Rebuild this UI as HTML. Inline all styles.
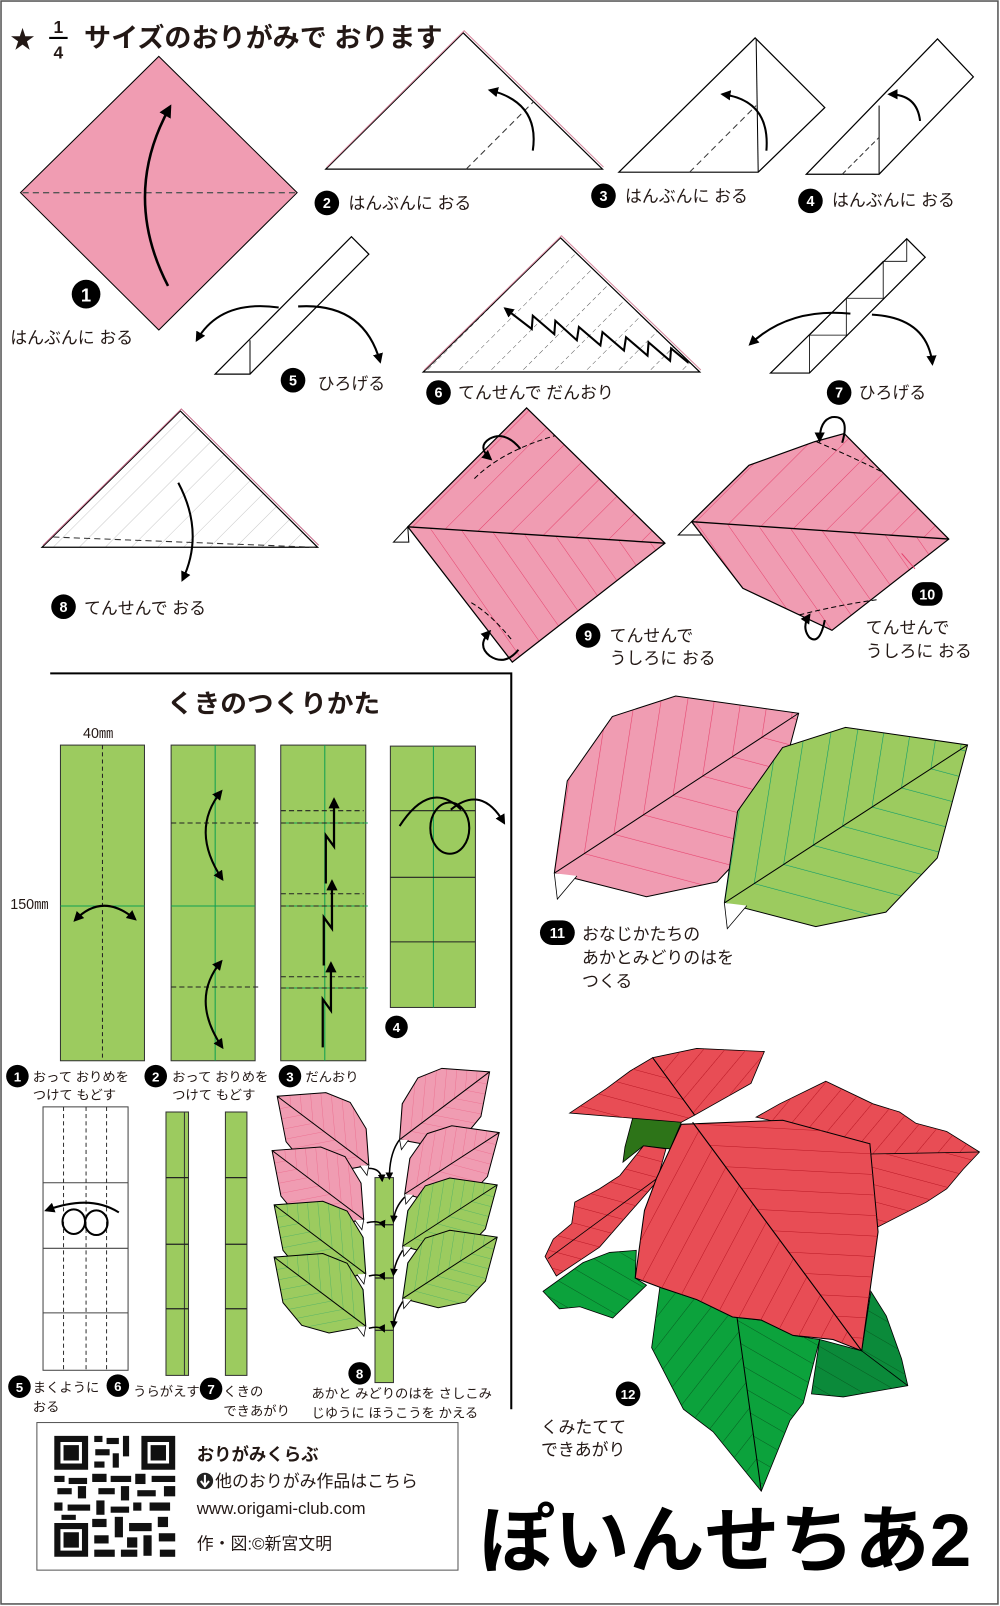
<!DOCTYPE html>
<html><head><meta charset="utf-8"><style>
html,body{margin:0;padding:0;background:#fff;}
svg{display:block;}
text{font-family:"Liberation Sans","Noto Sans CJK JP",sans-serif;fill:#231815;}
.lb{font-size:16.5px;}
.sm{font-size:13px;}
.nb{font-size:14px;font-weight:bold;fill:#fff;text-anchor:middle;}
</style></head><body>
<svg width="1000" height="1606" viewBox="0 0 976 1567" preserveAspectRatio="none" xmlns="http://www.w3.org/2000/svg">
<defs>
<marker id="ah" viewBox="0 0 10 10" refX="8" refY="5" markerWidth="5" markerHeight="5" orient="auto-start-reverse"><path d="M0,0 L10,5 L0,10 z" fill="#000"/></marker>
<pattern id="pU" width="9" height="9" patternUnits="userSpaceOnUse" patternTransform="rotate(42)"><line x1="0" y1="0" x2="0" y2="9" stroke="#e5436d" stroke-width="0.4"/></pattern>
<pattern id="pL" width="9" height="9" patternUnits="userSpaceOnUse" patternTransform="rotate(-42)"><line x1="0" y1="0" x2="0" y2="9" stroke="#e5436d" stroke-width="0.4"/></pattern>
<pattern id="gU" width="9" height="9" patternUnits="userSpaceOnUse" patternTransform="rotate(42)"><line x1="0" y1="0" x2="0" y2="9" stroke="#0a9a6a" stroke-width="0.4"/></pattern>
<pattern id="gL" width="9" height="9" patternUnits="userSpaceOnUse" patternTransform="rotate(-42)"><line x1="0" y1="0" x2="0" y2="9" stroke="#0a9a6a" stroke-width="0.4"/></pattern>
<clipPath id="cl"><polygon points="0,0 21,-24 46,-34 68,-28 100,0 70,27 45,33 22,24"/></clipPath>
<g id="leafP">
<polygon points="0,0 21,-24 46,-34 68,-28 100,0 70,27 45,33 22,24" fill="#f09cb2"/>
<g clip-path="url(#cl)"><rect x="-10" y="-40" width="120" height="40" fill="url(#pU)"/><rect x="-10" y="0" width="120" height="40" fill="url(#pL)"/></g>
<polygon points="0,0 21,-24 46,-34 68,-28 100,0 70,27 45,33 22,24" fill="none" stroke="#000" stroke-width="1" vector-effect="non-scaling-stroke"/>
<line x1="0" y1="0" x2="100" y2="0" stroke="#000" stroke-width="1" vector-effect="non-scaling-stroke"/>
<polyline points="0,0 -4,8 6,5" fill="#fff" stroke="#000" stroke-width="0.8" vector-effect="non-scaling-stroke"/>
</g>
<g id="leafG">
<polygon points="0,0 21,-24 46,-34 68,-28 100,0 70,27 45,33 22,24" fill="#9ccb5f"/>
<g clip-path="url(#cl)"><rect x="-10" y="-40" width="120" height="40" fill="url(#gU)"/><rect x="-10" y="0" width="120" height="40" fill="url(#gL)"/></g>
<polygon points="0,0 21,-24 46,-34 68,-28 100,0 70,27 45,33 22,24" fill="none" stroke="#000" stroke-width="1" vector-effect="non-scaling-stroke"/>
<line x1="0" y1="0" x2="100" y2="0" stroke="#000" stroke-width="1" vector-effect="non-scaling-stroke"/>
<polyline points="0,0 -4,8 6,5" fill="#fff" stroke="#000" stroke-width="0.8" vector-effect="non-scaling-stroke"/>
</g>
<pattern id="r9u" width="24" height="24" patternUnits="userSpaceOnUse" patternTransform="rotate(45)"><line x1="0" y1="0" x2="0" y2="24" stroke="#e5436d" stroke-width="1"/></pattern>
<pattern id="r9l" width="24" height="24" patternUnits="userSpaceOnUse" patternTransform="rotate(-35)"><line x1="0" y1="0" x2="0" y2="24" stroke="#e5436d" stroke-width="1"/></pattern>
<pattern id="rh" width="20" height="20" patternUnits="userSpaceOnUse" patternTransform="rotate(-87)"><line x1="0" y1="0" x2="0" y2="20" stroke="#b5121f" stroke-width="0.9"/></pattern>
<pattern id="rs" width="20" height="20" patternUnits="userSpaceOnUse" patternTransform="rotate(28)"><line x1="0" y1="0" x2="0" y2="20" stroke="#b5121f" stroke-width="0.9"/></pattern>
<pattern id="rd" width="16" height="16" patternUnits="userSpaceOnUse" patternTransform="rotate(-75)"><line x1="0" y1="0" x2="0" y2="16" stroke="#b5121f" stroke-width="0.9"/></pattern>
<pattern id="rt" width="16" height="16" patternUnits="userSpaceOnUse" patternTransform="rotate(40)"><line x1="0" y1="0" x2="0" y2="16" stroke="#b5121f" stroke-width="0.9"/></pattern>
<pattern id="gs" width="18" height="18" patternUnits="userSpaceOnUse" patternTransform="rotate(38)"><line x1="0" y1="0" x2="0" y2="18" stroke="#06581f" stroke-width="0.9"/></pattern>
<pattern id="gs2" width="18" height="18" patternUnits="userSpaceOnUse" patternTransform="rotate(-60)"><line x1="0" y1="0" x2="0" y2="18" stroke="#06581f" stroke-width="0.9"/></pattern>
<pattern id="gray" width="18" height="18" patternUnits="userSpaceOnUse" patternTransform="rotate(45)"><line x1="0" y1="0" x2="0" y2="18" stroke="#c8c8c8" stroke-width="1"/></pattern>
<pattern id="dsh" width="22" height="22" patternUnits="userSpaceOnUse" patternTransform="rotate(45)"><line x1="0" y1="0" x2="0" y2="22" stroke="#333" stroke-width="0.8" stroke-dasharray="4,3"/></pattern>
</defs>

<rect x="1" y="1" width="973" height="1564" fill="#fff" stroke="#555" stroke-width="1.5"/>

<!-- title -->
<text x="10" y="47" style="font-size:24px;">★</text>
<text x="57" y="32" style="font-size:17px;font-weight:bold;" text-anchor="middle">1</text>
<line x1="48" y1="37" x2="66" y2="37" stroke="#000" stroke-width="2"/>
<text x="57" y="57" style="font-size:17px;font-weight:bold;" text-anchor="middle">4</text>
<text x="82" y="46" style="font-size:26px;font-weight:bold;" textLength="350" lengthAdjust="spacingAndGlyphs">サイズのおりがみで おります</text>

<!-- step 1 -->
<polygon points="155,55 290,188 155,322 20,188" fill="#f09cb2" stroke="#000" stroke-width="1"/>
<line x1="22" y1="188" x2="288" y2="188" stroke="#555" stroke-width="1.3" stroke-dasharray="6,4"/>
<path d="M164,279 Q118,190 166,104" fill="none" stroke="#000" stroke-width="2.5" marker-end="url(#ah)"/>
<circle cx="84" cy="287" r="14" fill="#000"/><text x="84" y="294" class="nb" style="font-size:18px">1</text>
<text x="10" y="335" class="lb">はんぶんに おる</text>

<!-- step 2 -->
<polygon points="318,165 452,32 588,165" fill="#fff" stroke="#000" stroke-width="1.2"/>
<polyline points="318,165 452,32 588,165" fill="none" stroke="#d88aa0" stroke-width="1" transform="translate(1,-2)"/>
<line x1="455" y1="165" x2="521" y2="99" stroke="#333" stroke-width="1" stroke-dasharray="6,4"/>
<path d="M520,147 Q527,100 478,88" fill="none" stroke="#000" stroke-width="2" marker-end="url(#ah)"/>
<circle cx="319" cy="198" r="12" fill="#000"/><text x="319" y="203" class="nb">2</text>
<text x="340" y="204" class="lb">はんぶんに おる</text>

<!-- step 3 -->
<polygon points="604,168 737,37 805,105 740,168" fill="#fff" stroke="#000" stroke-width="1.2"/>
<line x1="738" y1="38" x2="740" y2="168" stroke="#000" stroke-width="1"/>
<line x1="673" y1="168" x2="738" y2="103" stroke="#333" stroke-width="1" stroke-dasharray="6,4"/>
<path d="M748,147 Q752,98 705,92" fill="none" stroke="#000" stroke-width="2" marker-end="url(#ah)"/>
<circle cx="589" cy="191" r="12" fill="#000"/><text x="589" y="196" class="nb">3</text>
<text x="610" y="197" class="lb">はんぶんに おる</text>

<!-- step 4 -->
<polygon points="787,170 915,38 950,75 858,170" fill="#fff" stroke="#000" stroke-width="1.2"/>
<line x1="858" y1="103" x2="858" y2="170" stroke="#000" stroke-width="1"/>
<line x1="822" y1="170" x2="858" y2="134" stroke="#333" stroke-width="1" stroke-dasharray="5,3"/>
<path d="M898,118 Q895,92 868,92" fill="none" stroke="#000" stroke-width="2" marker-end="url(#ah)"/>
<circle cx="791" cy="196" r="12" fill="#000"/><text x="791" y="201" class="nb">4</text>
<text x="812" y="201" class="lb">はんぶんに おる</text>

<!-- step 5 -->
<polygon points="210,365 343,231 360,248 244,365" fill="#fff" stroke="#000" stroke-width="1.2"/>
<line x1="244" y1="332" x2="244" y2="365" stroke="#000" stroke-width="1"/>
<path d="M272,300 Q215,292 192,332" fill="none" stroke="#000" stroke-width="2" marker-end="url(#ah)"/>
<path d="M291,299 Q355,295 371,353" fill="none" stroke="#000" stroke-width="2" marker-end="url(#ah)"/>
<circle cx="286" cy="371" r="12" fill="#000"/><text x="286" y="376" class="nb">5</text>
<text x="310" y="380" class="lb">ひろげる</text>

<!-- step 6 -->
<polygon points="413,363 547,232 683,363" fill="url(#dsh)" stroke="none"/>
<polygon points="413,363 547,232 683,363" fill="none" stroke="#000" stroke-width="1.2"/>
<polyline points="413,363 547,232 683,363" fill="none" stroke="#d88aa0" stroke-width="1" transform="translate(1,-2)"/>
<polyline points="672,354 655,340 654,352 633,334 632,347 611,329 609,342 588,324 586,337 565,319 563,332 542,313 541,326 520,308 519,321 493,301" fill="none" stroke="#000" stroke-width="2" marker-end="url(#ah)"/>
<circle cx="428" cy="383" r="12" fill="#000"/><text x="428" y="388" class="nb">6</text>
<text x="447" y="389" class="lb">てんせんで だんおり</text>

<!-- step 7 -->
<polygon points="752,364 885,233 903,251 790,364" fill="#fff" stroke="#000" stroke-width="1.2"/>
<polyline points="790,364 790,327 826,327 826,291 862,291 862,255 885,255 885,233" fill="none" stroke="#000" stroke-width="0.8"/>
<line x1="790" y1="327" x2="826" y2="291" stroke="#000" stroke-width="0.8"/>
<line x1="826" y1="291" x2="862" y2="255" stroke="#000" stroke-width="0.8"/>
<path d="M830,306 Q770,300 732,336" fill="none" stroke="#000" stroke-width="2" marker-end="url(#ah)"/>
<path d="M851,307 Q905,310 910,355" fill="none" stroke="#000" stroke-width="2" marker-end="url(#ah)"/>
<circle cx="819" cy="383" r="12" fill="#000"/><text x="819" y="388" class="nb">7</text>
<text x="838" y="389" class="lb">ひろげる</text>

<!-- step 8 -->
<polygon points="41,534 176,401 310,534" fill="url(#gray)"/>
<polygon points="41,534 176,401 310,534" fill="none" stroke="#000" stroke-width="1.2"/>
<polyline points="41,534 176,401 310,534" fill="none" stroke="#c46a88" stroke-width="1" transform="translate(1,-2)"/>
<line x1="52" y1="524" x2="308" y2="534" stroke="#333" stroke-width="1" stroke-dasharray="6,4"/>
<path d="M174,471 Q200,520 178,566" fill="none" stroke="#000" stroke-width="2" marker-end="url(#ah)"/>
<circle cx="62" cy="592" r="12" fill="#000"/><text x="62" y="597" class="nb">8</text>
<text x="82" y="599" class="lb">てんせんで おる</text>

<!-- step 9 -->
<polygon points="384,529 398,514 399,529" fill="#fff" stroke="#000" stroke-width="1"/>
<clipPath id="c9"><polygon points="514,398 649,530 500,646 398,514"/></clipPath>
<polygon points="514,398 649,530 500,646 398,514" fill="#f09cb2"/>
<g clip-path="url(#c9)">
<polygon points="398,514 649,530 660,380 390,380" fill="url(#r9u)"/>
<polygon points="398,514 649,530 660,660 390,660" fill="url(#r9l)"/>
</g>
<polygon points="514,398 649,530 500,646 398,514" fill="none" stroke="#000" stroke-width="1.2"/>
<line x1="398" y1="514" x2="649" y2="530" stroke="#000" stroke-width="1.3"/>
<path d="M463,467 Q490,440 542,425" fill="none" stroke="#000" stroke-width="1" stroke-dasharray="5,3"/>
<path d="M460,588 Q480,600 500,625" fill="none" stroke="#000" stroke-width="1" stroke-dasharray="5,3"/>
<path d="M508,438 Q493,420 478,428 Q465,436 479,448" fill="none" stroke="#000" stroke-width="2" marker-end="url(#ah)"/>
<path d="M506,634 Q493,650 478,640 Q465,630 478,616" fill="none" stroke="#000" stroke-width="2" marker-end="url(#ah)"/>
<circle cx="574" cy="620" r="12" fill="#000"/><text x="574" y="625" class="nb">9</text>
<text x="595" y="626" class="lb">てんせんで</text>
<text x="595" y="648" class="lb">うしろに おる</text>

<!-- step 10 -->
<polygon points="662,522 675,509 690,522" fill="#fff" stroke="#000" stroke-width="1"/>
<clipPath id="c10"><polygon points="675,509 731,454 795,431 824,423 926,526 812,615 725,574"/></clipPath>
<polygon points="675,509 731,454 795,431 824,423 926,526 812,615 725,574" fill="#f09cb2"/>
<g clip-path="url(#c10)">
<polygon points="675,509 926,526 940,400 660,400" fill="url(#r9u)"/>
<polygon points="675,509 926,526 940,640 660,640" fill="url(#r9l)"/>
</g>
<polygon points="675,509 731,454 795,431 824,423 926,526 812,615 725,574" fill="none" stroke="#000" stroke-width="1.2"/>
<line x1="675" y1="509" x2="926" y2="526" stroke="#000" stroke-width="1.3"/>
<line x1="880" y1="540" x2="893" y2="555" stroke="#e5436d" stroke-width="1"/>
<path d="M797,431 Q830,445 860,460" fill="none" stroke="#000" stroke-width="1" stroke-dasharray="5,3"/>
<path d="M780,600 Q820,590 857,585" fill="none" stroke="#000" stroke-width="1" stroke-dasharray="5,3"/>
<path d="M822,432 Q830,405 812,407 Q800,410 800,430" fill="none" stroke="#000" stroke-width="2" marker-end="url(#ah)"/>
<path d="M805,605 Q800,630 790,622 Q782,612 790,600" fill="none" stroke="#000" stroke-width="2" marker-end="url(#ah)"/>
<rect x="890" y="568" width="30" height="23" rx="11" fill="#000"/><text x="905" y="585" class="nb">10</text>
<text x="845" y="618" class="lb">てんせんで</text>
<text x="845" y="641" class="lb">うしろに おる</text>

<!-- stem section -->
<polyline points="49,657 499,657 499,1375" fill="none" stroke="#000" stroke-width="2"/>
<text x="163" y="695" style="font-size:25px;font-weight:bold;" textLength="208" lengthAdjust="spacingAndGlyphs">くきのつくりかた</text>
<text x="81" y="720" style="font-size:14px;">40㎜</text>
<text x="10" y="887" style="font-size:14px;">150㎜</text>

<g stroke-width="1">
<rect x="59" y="727" width="82" height="308" fill="#9ccb5f" stroke="#333"/>
<line x1="59" y1="884" x2="141" y2="884" stroke="#10a050"/>
<line x1="100" y1="727" x2="100" y2="1035" stroke="#222" stroke-dasharray="4,3"/>
<path d="M73,898 Q100,870 132,897" fill="none" stroke="#000" stroke-width="2" marker-start="url(#ah)" marker-end="url(#ah)"/>

<rect x="167" y="727" width="82" height="308" fill="#9ccb5f" stroke="#333"/>
<line x1="167" y1="884" x2="249" y2="884" stroke="#10a050"/>
<line x1="210" y1="727" x2="210" y2="1035" stroke="#10a050"/>
<line x1="167" y1="803" x2="252" y2="803" stroke="#222" stroke-dasharray="5,3"/>
<line x1="167" y1="963" x2="252" y2="963" stroke="#222" stroke-dasharray="5,3"/>
<path d="M216,772 Q185,810 217,858" fill="none" stroke="#000" stroke-width="2" marker-start="url(#ah)" marker-end="url(#ah)"/>
<path d="M216,938 Q185,975 217,1022" fill="none" stroke="#000" stroke-width="2" marker-start="url(#ah)" marker-end="url(#ah)"/>

<rect x="274" y="727" width="83" height="308" fill="#9ccb5f" stroke="#333"/>
<line x1="317" y1="727" x2="317" y2="1035" stroke="#10a050"/>
<line x1="274" y1="803" x2="359" y2="803" stroke="#10a050"/>
<line x1="274" y1="884" x2="359" y2="884" stroke="#10a050"/>
<line x1="274" y1="964" x2="359" y2="964" stroke="#10a050"/>
<g stroke="#222" stroke-dasharray="5,3">
<line x1="274" y1="791" x2="355" y2="791"/><line x1="274" y1="803" x2="355" y2="803"/>
<line x1="274" y1="872" x2="355" y2="872"/><line x1="274" y1="884" x2="355" y2="884"/>
<line x1="274" y1="953" x2="355" y2="953"/><line x1="274" y1="964" x2="355" y2="964"/>
</g>
<g fill="none" stroke="#000" stroke-width="2.2">
<polyline points="318,862 318,815 326,826 326,780" marker-end="url(#ah)"/>
<polyline points="316,942 316,895 324,906 324,860" marker-end="url(#ah)"/>
<polyline points="315,1022 315,975 323,986 323,940" marker-end="url(#ah)"/>
</g>

<rect x="381" y="728" width="83" height="255" fill="#9ccb5f" stroke="#333"/>
<line x1="423" y1="728" x2="423" y2="983" stroke="#10a050"/>
<line x1="381" y1="791" x2="464" y2="791" stroke="#222"/>
<line x1="381" y1="856" x2="464" y2="856" stroke="#222"/>
<line x1="381" y1="919" x2="464" y2="919" stroke="#222"/>
<path d="M390,806 Q420,760 450,790" fill="none" stroke="#000" stroke-width="2"/>
<ellipse cx="439" cy="808" rx="19" ry="25" fill="none" stroke="#000" stroke-width="2"/>
<path d="M440,790 Q470,765 492,803" fill="none" stroke="#000" stroke-width="2" marker-end="url(#ah)"/>
</g>
<circle cx="387" cy="1002" r="11" fill="#000"/><text x="387" y="1007" class="nb" style="font-size:13px">4</text>

<circle cx="17" cy="1050" r="11" fill="#000"/><text x="17" y="1055" class="nb" style="font-size:13px">1</text>
<text x="32" y="1055" class="sm">おって おりめを</text><text x="32" y="1073" class="sm">つけて もどす</text>
<circle cx="152" cy="1050" r="11" fill="#000"/><text x="152" y="1055" class="nb" style="font-size:13px">2</text>
<text x="168" y="1055" class="sm">おって おりめを</text><text x="168" y="1073" class="sm">つけて もどす</text>
<circle cx="283" cy="1050" r="11" fill="#000"/><text x="283" y="1055" class="nb" style="font-size:13px">3</text>
<text x="298" y="1055" class="sm">だんおり</text>

<!-- stem steps 5-7 -->
<rect x="42" y="1080" width="83" height="257" fill="#fff" stroke="#444" stroke-width="1"/>
<g stroke="#444" stroke-width="1"><line x1="42" y1="1154" x2="125" y2="1154"/><line x1="42" y1="1218" x2="125" y2="1218"/><line x1="42" y1="1281" x2="125" y2="1281"/></g>
<g stroke="#333" stroke-width="1" stroke-dasharray="4,3"><line x1="62" y1="1080" x2="62" y2="1337"/><line x1="84" y1="1080" x2="84" y2="1337"/><line x1="104" y1="1080" x2="104" y2="1337"/></g>
<path d="M116,1183 Q88,1165 45,1181" fill="none" stroke="#000" stroke-width="2" marker-end="url(#ah)"/>
<ellipse cx="72" cy="1192" rx="11" ry="12" fill="none" stroke="#000" stroke-width="2"/>
<ellipse cx="94" cy="1193" rx="11" ry="12" fill="none" stroke="#000" stroke-width="2"/>

<rect x="162" y="1085" width="22" height="257" fill="#9ccb5f" stroke="#333"/>
<line x1="180" y1="1085" x2="180" y2="1342" stroke="#333"/>
<g stroke="#222" stroke-width="1.2"><line x1="162" y1="1149" x2="184" y2="1149"/><line x1="162" y1="1214" x2="184" y2="1214"/><line x1="162" y1="1277" x2="184" y2="1277"/></g>
<rect x="220" y="1085" width="21" height="257" fill="#9ccb5f" stroke="#333"/>
<g stroke="#222" stroke-width="1.2"><line x1="220" y1="1149" x2="241" y2="1149"/><line x1="220" y1="1214" x2="241" y2="1214"/><line x1="220" y1="1277" x2="241" y2="1277"/></g>

<circle cx="19" cy="1353" r="11" fill="#000"/><text x="19" y="1358" class="nb" style="font-size:13px">5</text>
<text x="32" y="1358" class="sm">まくように</text><text x="32" y="1377" class="sm">おる</text>
<circle cx="115" cy="1352" r="11" fill="#000"/><text x="115" y="1357" class="nb" style="font-size:13px">6</text>
<text x="130" y="1362" class="sm">うらがえす</text>
<circle cx="206" cy="1355" r="11" fill="#000"/><text x="206" y="1360" class="nb" style="font-size:13px">7</text>
<text x="218" y="1362" class="sm">くきの</text><text x="218" y="1381" class="sm">できあがり</text>

<!-- step 8 stem with leaves -->
<use href="#leafP" transform="translate(360,1137) rotate(-143) scale(1.12,-1.12)"/>
<use href="#leafP" transform="translate(390,1112) rotate(-37) scale(1.1)"/>
<use href="#leafP" transform="translate(355,1190) rotate(-143) scale(1.12,-1.12)"/>
<use href="#leafP" transform="translate(395,1165) rotate(-33) scale(1.1)"/>
<use href="#leafG" transform="translate(357,1243) rotate(-143) scale(1.12,-1.12)"/>
<use href="#leafG" transform="translate(393,1216) rotate(-33) scale(1.1)"/>
<use href="#leafG" transform="translate(357,1294) rotate(-143) scale(1.12,-1.12)"/>
<use href="#leafG" transform="translate(393,1267) rotate(-33) scale(1.1)"/>
<rect x="366" y="1149" width="18" height="200" fill="#9ccb5f" stroke="#333"/>
<g stroke="#222" stroke-width="1.2"><line x1="366" y1="1195" x2="384" y2="1195"/><line x1="366" y1="1247" x2="384" y2="1247"/><line x1="366" y1="1298" x2="384" y2="1298"/></g>
<g fill="none" stroke="#000" stroke-width="1.5">
<path d="M360,1140 Q372,1140 373,1152" marker-end="url(#ah)"/>
<path d="M390,1112 Q380,1125 380,1150" marker-end="url(#ah)"/>
<path d="M358,1193 Q372,1190 375,1197" marker-end="url(#ah)"/>
<path d="M395,1168 Q385,1178 384,1192" marker-end="url(#ah)"/>
<path d="M360,1245 Q372,1242 375,1248" marker-end="url(#ah)"/>
<path d="M393,1220 Q385,1232 384,1244" marker-end="url(#ah)"/>
<path d="M360,1296 Q372,1293 375,1299" marker-end="url(#ah)"/>
<path d="M393,1270 Q385,1282 384,1295" marker-end="url(#ah)"/>
</g>
<circle cx="351" cy="1340" r="11" fill="#000"/><text x="351" y="1345" class="nb" style="font-size:13px">8</text>
<text x="304" y="1364" class="sm">あかと みどりのはを さしこみ</text>
<text x="304" y="1383" class="sm">じゆうに ほうこうを かえる</text>

<!-- info box -->
<rect x="36" y="1388" width="411" height="144" fill="#fff" stroke="#555" stroke-width="1"/>
<g fill="#111">
<rect x="53" y="1401" width="118" height="118" fill="#fff"/>
<path d="M53,1401h33v33h-33zM59,1407v21h21v-21z M62,1410h15v15h-15z" fill-rule="evenodd"/>
<path d="M138,1401h33v33h-33zM144,1407v21h21v-21z M147,1410h15v15h-15z" fill-rule="evenodd"/>
<path d="M53,1486h33v33h-33zM59,1492v21h21v-21z M62,1495h15v15h-15z" fill-rule="evenodd"/>
<rect x="92" y="1401" width="8" height="6"/><rect x="104" y="1403" width="12" height="6"/><rect x="120" y="1401" width="6" height="20"/><rect x="93" y="1414" width="14" height="6"/><rect x="110" y="1418" width="6" height="14"/><rect x="92" y="1426" width="10" height="6"/>
<rect x="53" y="1440" width="10" height="6"/><rect x="67" y="1442" width="18" height="6"/><rect x="90" y="1438" width="14" height="8"/><rect x="108" y="1440" width="20" height="6"/><rect x="132" y="1438" width="10" height="10"/><rect x="148" y="1440" width="23" height="6"/>
<rect x="56" y="1452" width="14" height="6"/><rect x="76" y="1450" width="8" height="12"/><rect x="96" y="1452" width="16" height="6"/><rect x="118" y="1450" width="8" height="14"/><rect x="134" y="1454" width="18" height="6"/><rect x="160" y="1450" width="11" height="10"/>
<rect x="53" y="1466" width="8" height="8"/><rect x="66" y="1468" width="22" height="6"/><rect x="94" y="1464" width="8" height="14"/><rect x="108" y="1470" width="18" height="6"/><rect x="130" y="1466" width="8" height="8"/><rect x="146" y="1466" width="20" height="8"/>
<rect x="60" y="1478" width="14" height="5"/><rect x="90" y="1482" width="14" height="8"/><rect x="112" y="1480" width="8" height="20"/><rect x="126" y="1486" width="22" height="8"/><rect x="154" y="1480" width="10" height="10"/>
<rect x="92" y="1498" width="14" height="8"/><rect x="124" y="1500" width="10" height="10"/><rect x="140" y="1498" width="8" height="20"/><rect x="155" y="1496" width="16" height="8"/><rect x="92" y="1512" width="20" height="7"/><rect x="118" y="1512" width="16" height="7"/><rect x="156" y="1512" width="15" height="7"/>
</g>
<text x="192" y="1425" style="font-size:17px;font-weight:bold;">おりがみくらぶ</text>
<circle cx="200" cy="1445" r="8" fill="#222"/><path d="M200,1439v10M196,1445l4,5l4,-5" stroke="#fff" stroke-width="2" fill="none"/>
<text x="210" y="1451" style="font-size:16.5px;">他のおりがみ作品はこちら</text>
<text x="192" y="1477" style="font-size:16.5px;">www.origami-club.com</text>
<text x="192" y="1512" style="font-size:16.5px;">作・図:©新宮文明</text>

<!-- step 11 -->
<use href="#leafP" transform="translate(541,852) rotate(-33.2) scale(2.85)"/>
<use href="#leafG" transform="translate(707,881) rotate(-33) scale(2.83)"/>
<rect x="527" y="898" width="34" height="24" rx="12" fill="#000"/><text x="544" y="915" class="nb">11</text>
<text x="568" y="917" class="lb">おなじかたちの</text>
<text x="568" y="940" class="lb">あかとみどりのはを</text>
<text x="568" y="963" class="lb">つくる</text>

<!-- step 12 poinsettia -->
<polygon points="618,1089 665,1095 654,1121 628,1118 608,1134 610,1119" fill="#2d7418" stroke="#000" stroke-width="0.8"/>
<polygon points="530,1260 546,1277 566,1275 598,1286 631,1254 620,1247 621,1220 595,1222 569,1232" fill="#0ca23c" stroke="#000" stroke-width="0.8"/>
<polygon points="530,1260 546,1277 566,1275 598,1286 631,1254 620,1247 621,1220 595,1222 569,1232" fill="url(#gs2)"/>
<polygon points="800,1307 792,1360 823,1363 886,1352 880,1326 865,1284 850,1260 841,1318" fill="#0b8a3a" stroke="#000" stroke-width="0.8"/>
<polygon points="800,1307 792,1360 823,1363 886,1352 880,1326 865,1284 850,1260 841,1318" fill="url(#gs2)"/>
<line x1="841" y1="1318" x2="886" y2="1352" stroke="#000" stroke-width="0.8"/>
<polygon points="644,1256 636,1315 667,1375 696,1397 743,1455 771,1386 784,1369 800,1307 774,1303 743,1288 715,1285 680,1268" fill="#0ca23c" stroke="#000" stroke-width="0.8"/>
<polygon points="644,1256 636,1315 667,1375 696,1397 743,1455 719,1283 680,1268" fill="url(#gs)"/>
<polygon points="719,1283 743,1455 771,1386 784,1369 800,1307 774,1303 743,1288" fill="url(#gs2)"/>
<line x1="719" y1="1283" x2="743" y2="1455" stroke="#000" stroke-width="1"/>
<!-- left red leaf -->
<polygon points="628,1118 650,1121 641,1153 585,1217 543,1245 532,1226 540,1209 558,1194 561,1173 585,1160 605,1147" fill="#e84d55" stroke="#000" stroke-width="0.8"/>
<polygon points="628,1118 650,1121 641,1153 585,1217 543,1245 532,1226 540,1209 558,1194 561,1173 585,1160 605,1147" fill="url(#rd)"/>
<line x1="641" y1="1150" x2="535" y2="1228" stroke="#000" stroke-width="0.8"/>
<!-- right red leaf -->
<polygon points="738,1090 761,1077 806,1055 852,1077 878,1085 894,1096 924,1104 956,1124 940,1141 924,1160 904,1173 855,1198 849,1116" fill="#e84d55" stroke="#000" stroke-width="0.8"/>
<polygon points="738,1090 761,1077 806,1055 852,1077 878,1085 894,1096 924,1104 956,1124 849,1126 849,1116" fill="url(#rt)"/>
<polygon points="849,1126 956,1124 940,1141 924,1160 904,1173 855,1198" fill="url(#rd)"/>
<line x1="849" y1="1126" x2="956" y2="1124" stroke="#000" stroke-width="0.8"/>
<!-- top leaves -->
<polygon points="556,1086 592,1062 615,1045 637,1032 678,1088 665,1095" fill="#e84d55" stroke="#000" stroke-width="0.8"/>
<polygon points="556,1086 592,1062 615,1045 637,1032 678,1088 665,1095" fill="url(#rd)"/>
<polygon points="637,1032 680,1023 746,1026 733,1057 678,1088" fill="#e84d55" stroke="#000" stroke-width="0.8"/>
<polygon points="637,1032 680,1023 746,1026 733,1057 678,1088" fill="url(#rt)"/>
<line x1="637" y1="1032" x2="678" y2="1088" stroke="#000" stroke-width="0.9"/>
<!-- main leaf -->
<polygon points="665,1097 764,1093 849,1116 857,1202 841,1318 813,1307 774,1303 743,1288 715,1285 680,1268 644,1256 620,1247 629,1181 641,1149 654,1121" fill="#e84d55" stroke="#000" stroke-width="1"/>
<polygon points="676,1095 764,1093 849,1116 857,1202 841,1318" fill="url(#rh)"/>
<polygon points="676,1095 841,1318 813,1307 774,1303 743,1288 715,1285 680,1268 644,1256 620,1247 629,1181 641,1149 654,1121 665,1097" fill="url(#rs)"/>
<line x1="676" y1="1095" x2="841" y2="1318" stroke="#000" stroke-width="1.1"/>
<circle cx="613" cy="1360" r="12" fill="#000"/><text x="613" y="1365" class="nb" style="font-size:13px">12</text>
<text x="528" y="1398" class="lb">くみたてて</text>
<text x="528" y="1420" class="lb">できあがり</text>

<text x="468" y="1528" style="font-size:72px;font-weight:bold;fill:#000;" textLength="480" lengthAdjust="spacingAndGlyphs">ぽいんせちあ2</text>
</svg>
</body></html>
